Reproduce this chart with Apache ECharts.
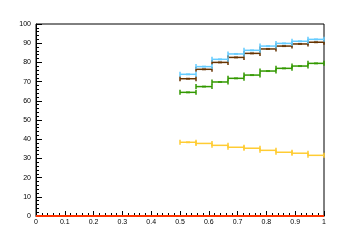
<!DOCTYPE html>
<html>
	<head>
		<meta charset="utf-8">
		<title>efficiency vs x</title>
		<script src="https://cdn.jsdelivr.net/npm/echarts@6/dist/echarts.min.js"></script>
		<style type="text/css">
			html, body {
				margin: 0;
				padding: 0;
				background: #fff;
			}

			#chart {
				width: 360px;
				height: 240px;
			}
		</style>
	</head>

	<body>
		<div id="chart"></div>

		<script>
			// bin edges, 9 bins between 0.5 and 1
			var binEdges = [0.5, 0.5556, 0.6111, 0.6667, 0.7222, 0.7778, 0.8333, 0.8889, 0.9444, 1.0];
			var blueVals = [73.8, 77.8, 81.6, 84.4, 86.3, 88.5, 89.9, 91.0, 92.0];
			var brownVals = [71.5, 76.4, 80.0, 82.6, 84.7, 87.0, 88.5, 89.6, 90.5];
			var greenVals = [64.4, 67.4, 69.8, 71.7, 73.4, 75.5, 76.9, 78.1, 79.5];
			var yellowVals = [38.4, 37.8, 36.8, 35.8, 35.3, 34.2, 33.2, 32.7, 31.6];
			// red baseline runs over the whole axis at zero
			var redEdges = [0, 1];
			var redVals = [0, 0];

			var chart = echarts.init(document.getElementById('chart'), null, {renderer: 'canvas'});

			// [lo, hi, y] rows for a custom error-bar series
			function binRows(vals) {
				var rows = [];
				for (var i = 0; i < vals.length; i++) {
					rows.push([binEdges[i], binEdges[i + 1], vals[i]]);
				}
				return rows;
			}

			function centers(vals) {
				var pts = [];
				for (var i = 0; i < vals.length; i++) {
					pts.push([(binEdges[i] + binEdges[i + 1]) / 2, vals[i]]);
				}
				return pts;
			}

			function errSeries(vals, color) {
				return {
					type: 'custom',
					animation: false,
					data: binRows(vals),
					renderItem: function(params, api) {
						var lo = api.coord([api.value(0), api.value(2)]);
						var hi = api.coord([api.value(1), api.value(2)]);
						var st = {stroke: color, lineWidth: 1.5, fill: null};
						return {
							type: 'group',
							children: [{
									type: 'line',
									shape: {x1: lo[0], y1: lo[1], x2: hi[0], y2: hi[1]},
									style: st
								},
								{
									type: 'line',
									shape: {x1: lo[0], y1: lo[1] - 2.5, x2: lo[0], y2: lo[1] + 2.5},
									style: st
								},
								{
									type: 'line',
									shape: {x1: hi[0], y1: hi[1] - 2.5, x2: hi[0], y2: hi[1] + 2.5},
									style: st
								}
							]
						};
					}
				};
			}

			function markSeries(vals, color) {
				return {
					type: 'scatter',
					animation: false,
					symbol: 'rect',
					symbolSize: [4, 2],
					itemStyle: {color: color},
					data: centers(vals)
				};
			}

			var redLine = [];
			for (var i = 0; i < redEdges.length; i++) {
				redLine.push([redEdges[i], redVals[i]]);
			}

			chart.setOption({
				animation: false,
				grid: {
					left: 36,
					right: 36,
					top: 24,
					bottom: 24,
					show: true,
					borderColor: '#000',
					borderWidth: 1
				},
				xAxis: {
					type: 'value',
					min: 0,
					max: 1,
					interval: 0.1,
					axisLine: {show: true, lineStyle: {color: '#000', width: 1}},
					axisTick: {show: true, inside: true, length: 5, lineStyle: {color: '#000'}},
					minorTick: {show: true, splitNumber: 5, length: 3, lineStyle: {color: '#000'}},
					splitLine: {show: false},
					axisLabel: {
						color: '#000',
						fontSize: 7,
						fontFamily: 'Liberation Sans',
						margin: 3
					}
				},
				yAxis: {
					type: 'value',
					min: 0,
					max: 100,
					interval: 10,
					axisLine: {show: true, lineStyle: {color: '#000', width: 1}},
					axisTick: {show: true, inside: true, length: 6, lineStyle: {color: '#000'}},
					minorTick: {show: true, splitNumber: 5, length: 3, lineStyle: {color: '#000'}},
					splitLine: {show: false},
					axisLabel: {
						color: '#000',
						fontSize: 7,
						fontFamily: 'Liberation Sans',
						margin: 5
					}
				},
				series: [
					errSeries(yellowVals, '#ffcc33'),
					markSeries([yellowVals[0]], '#ffcc33'),
					errSeries(greenVals, '#339900'),
					markSeries(greenVals, '#339900'),
					errSeries(brownVals, '#663300'),
					markSeries(brownVals, '#663300'),
					errSeries(blueVals, '#66ccff'),
					markSeries(blueVals, '#66ccff'),
					{
						type: 'line',
						animation: false,
						clip: false,
						symbol: 'none',
						lineStyle: {color: '#ff3300', width: 2},
						data: redLine
					}
				]
			});
		</script>
	</body>
</html>
